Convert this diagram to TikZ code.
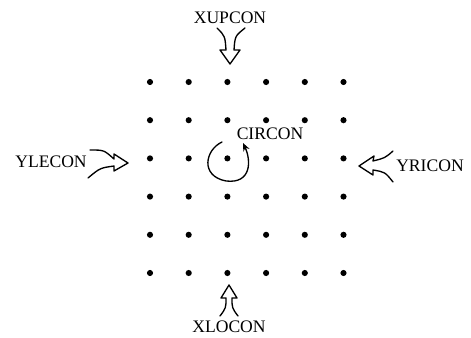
\documentclass[tikz,border=0pt]{standalone}
\usepackage{fontspec}
\setmainfont{Liberation Serif}
\usetikzlibrary{arrows.meta}
\begin{document}
\begin{tikzpicture}[x=0.75pt,y=-0.75pt,
  dotnode/.style={circle,fill=black,inner sep=0pt,minimum size=4.6pt},
  lbl/.style={font=\fontsize{13.2}{15}\selectfont,inner sep=0pt},
  hand/.style={line width=1pt,line join=round,line cap=round}]
\useasboundingbox (0,0) rectangle (471,338);
\foreach \i in {0,...,5}{
  \foreach \j in {0,...,5}{
    \node[dotnode] (d\i\j) at ({150+38.7*\i},{82+38.2*\j}) {};
  }
}
\node[lbl] (xup) at (230,18) {XUPCON};
\node[lbl] (ylef) at (51,162) {YLECON};
\node[lbl] (yri) at (430,166) {YRICON};
\node[lbl] (xlo) at (229,327) {XLOCON};
\node[lbl] (cir) at (270,134) {CIRCON};
% up arrow (pointing down)
\coordinate (xuptip) at (230,64);
\draw[hand] (217,28) .. controls (225,36) .. (226,50) -- (220,50) -- (xuptip) -- (240,50) -- (234,50) .. controls (235,36) .. (245,28);
% left arrow (pointing right)
\coordinate (ylefttip) at (128,163);
\draw[hand] (90,150) .. controls (104,150) .. (114,159) -- (114,154) -- (ylefttip) -- (114,171) -- (114,166) .. controls (100,168) .. (88,178);
% right arrow (pointing left)
\coordinate (yritip) at (359,166);
\draw[hand] (393,151) .. controls (385,158) .. (373,161) -- (374,156) -- (yritip) -- (373,175) -- (373,170) .. controls (385,172) .. (393,182);
% bottom arrow (pointing up)
\coordinate (xlotip) at (229,285);
\draw[hand] (220,316) .. controls (226,308) .. (226,298) -- (221,298) -- (xlotip) -- (237,298) -- (232,298) .. controls (232,308) .. (238,316);
% circular arrow
\draw[hand,-{Stealth[length=6pt,width=5pt]}] (222,142) .. controls (205,150) and (200,176) .. (226,181) .. controls (252,184) and (251,160) .. (243,143);
\end{tikzpicture}
\end{document}
